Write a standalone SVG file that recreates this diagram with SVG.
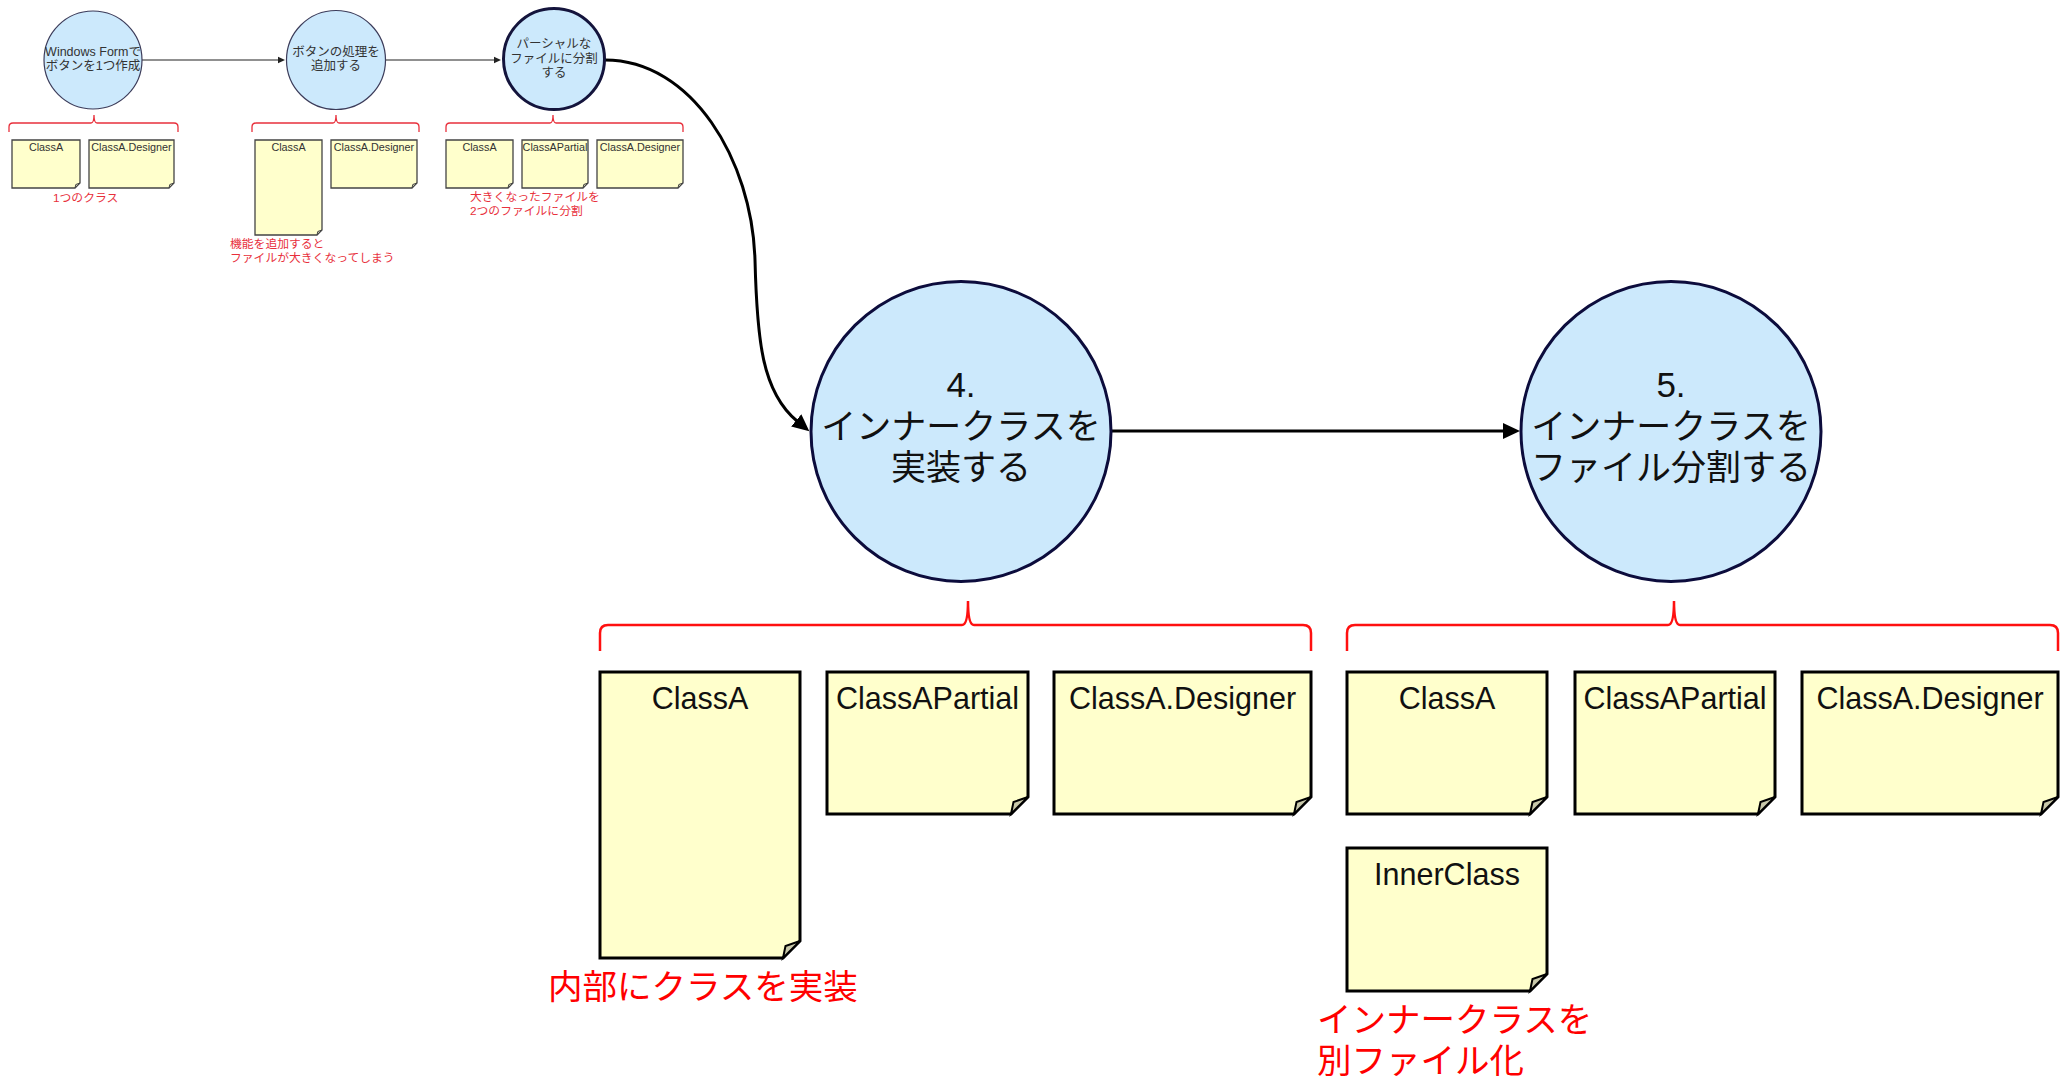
<svg xmlns="http://www.w3.org/2000/svg" width="2069" height="1078" viewBox="0 0 2069 1078">
  <style>
    text { font-family: "Liberation Sans", "Noto Sans CJK JP", sans-serif; }
    .bubble-s { fill: #cce9fc; stroke: #3c3c5a; stroke-width: 1.2; }
    .bubble-s3 { fill: #cce9fc; stroke: #14143c; stroke-width: 3; }
    .bubble-l { fill: #cce9fc; stroke: #0c0c3c; stroke-width: 3; }
    .note-s { fill: #ffffcc; stroke: #444; stroke-width: 1.3; stroke-linejoin: miter; }
    .note-l { fill: #ffffcc; stroke: #000; stroke-width: 3; stroke-linejoin: miter; }
    .fold-s { fill: #c8c8aa; stroke: #444; stroke-width: 1; }
    .fold-l { fill: #c8c8aa; stroke: #000; stroke-width: 2; }
    .brace-s { fill: none; stroke: #e8303c; stroke-width: 1.3; }
    .brace-l { fill: none; stroke: #ff1010; stroke-width: 2.5; }
    .txt-s { font-size: 12.5px; fill: #333; text-anchor: middle; }
    .lbl-s { font-size: 10.8px; fill: #333; text-anchor: middle; }
    .memo-s { font-size: 11.8px; fill: #e8303c; }
    .txt-l { font-size: 35px; fill: #111; text-anchor: middle; }
    .lbl-l { font-size: 30.5px; fill: #111; text-anchor: middle; }
    .memo-l { font-size: 34.5px; fill: #ff0000; }
    .link-s { fill: none; stroke: #222; stroke-width: 1.2; }
    .link-l { fill: none; stroke: #000; stroke-width: 3; }
  </style>
  <defs>
    <marker id="head-s" markerUnits="userSpaceOnUse" viewBox="0 0 8 8" markerWidth="8" markerHeight="8" refX="1" refY="4" orient="auto">
      <path d="M0,0.8 L7,4 L0,7.2 Z" fill="#222"/>
    </marker>
    <marker id="head-l" markerUnits="userSpaceOnUse" viewBox="0 0 18 18" markerWidth="18" markerHeight="18" refX="1" refY="9" orient="auto">
      <path d="M0,1 L17,9 L0,17 Z" fill="#000"/>
    </marker>
  </defs>

  <rect width="2069" height="1078" fill="#fff"/>

  <!-- connectors -->
  <g id="connectors">
    <path class="link-s" d="M142 60 H279" marker-end="url(#head-s)"/>
    <path class="link-s" d="M386 60 H495" marker-end="url(#head-s)"/>
    <path class="link-l" d="M605 60 C692 60 752 160 755 260 C757 340 762 392 797 421" marker-end="url(#head-l)"/>
    <path class="link-l" d="M1111 431 H1504" marker-end="url(#head-l)"/>
  </g>

  <!-- step 1 -->
  <g id="step1">
    <circle class="bubble-s" cx="93" cy="60" r="49"/>
    <text class="txt-s" x="93" y="56">Windows Formで</text>
    <text class="txt-s" x="93" y="69.5">ボタンを1つ作成</text>
  </g>
  <g id="step1-files">
    <path class="brace-s" d="M9 132 V127 Q9 123 13 123 H91 Q94 123 94 115 Q94 123 97 123 H174 Q178 123 178 127 V132"/>
    <path class="note-s" d="M12 140 H80 V183 L75 188 H12 Z"/>
    <path class="fold-s" d="M80 183 L75.8 184.5 L75 188 Z"/>
    <text class="lbl-s" x="46" y="151">ClassA</text>
    <path class="note-s" d="M89 140 H174 V183 L169 188 H89 Z"/>
    <path class="fold-s" d="M174 183 L169.8 184.5 L169 188 Z"/>
    <text class="lbl-s" x="131.5" y="151">ClassA.Designer</text>
    <text class="memo-s" x="53" y="202">1つのクラス</text>
  </g>

  <!-- step 2 -->
  <g id="step2">
    <circle class="bubble-s" cx="336" cy="60" r="49.5"/>
    <text class="txt-s" x="336" y="56">ボタンの処理を</text>
    <text class="txt-s" x="336" y="69.5">追加する</text>
  </g>
  <g id="step2-files">
    <path class="brace-s" d="M252 132 V127 Q252 123 256 123 H333 Q336 123 336 115 Q336 123 339 123 H415 Q419 123 419 127 V132"/>
    <path class="note-s" d="M255 140 H322 V230 L317 235 H255 Z"/>
    <path class="fold-s" d="M322 230 L317.8 231.5 L317 235 Z"/>
    <text class="lbl-s" x="288.5" y="151">ClassA</text>
    <path class="note-s" d="M331 140 H417 V183 L412 188 H331 Z"/>
    <path class="fold-s" d="M417 183 L412.8 184.5 L412 188 Z"/>
    <text class="lbl-s" x="374" y="151">ClassA.Designer</text>
    <text class="memo-s" x="230" y="248">機能を追加すると</text>
    <text class="memo-s" x="230" y="262">ファイルが大きくなってしまう</text>
  </g>

  <!-- step 3 -->
  <g id="step3">
    <circle class="bubble-s3" cx="554" cy="59" r="50.5"/>
    <text class="txt-s" x="554" y="47.5">パーシャルな</text>
    <text class="txt-s" x="554" y="62.5">ファイルに分割</text>
    <text class="txt-s" x="554" y="76.5">する</text>
  </g>
  <g id="step3-files">
    <path class="brace-s" d="M446 132 V127 Q446 123 450 123 H550 Q553 123 553 115 Q553 123 556 123 H679 Q683 123 683 127 V132"/>
    <path class="note-s" d="M446 140 H513 V183 L508 188 H446 Z"/>
    <path class="fold-s" d="M513 183 L508.8 184.5 L508 188 Z"/>
    <text class="lbl-s" x="479.5" y="151">ClassA</text>
    <path class="note-s" d="M522 140 H588 V183 L583 188 H522 Z"/>
    <path class="fold-s" d="M588 183 L583.8 184.5 L583 188 Z"/>
    <text class="lbl-s" x="555" y="151">ClassAPartial</text>
    <path class="note-s" d="M597 140 H683 V183 L678 188 H597 Z"/>
    <path class="fold-s" d="M683 183 L678.8 184.5 L678 188 Z"/>
    <text class="lbl-s" x="640" y="151">ClassA.Designer</text>
    <text class="memo-s" x="470" y="201">大きくなったファイルを</text>
    <text class="memo-s" x="470" y="215">2つのファイルに分割</text>
  </g>

  <!-- step 4 -->
  <g id="step4">
    <circle class="bubble-l" cx="961" cy="431.5" r="150"/>
    <text class="txt-l" x="961" y="397">4.</text>
    <text class="txt-l" x="961" y="439">インナークラスを</text>
    <text class="txt-l" x="961" y="480">実装する</text>
  </g>
  <g id="step4-files">
    <path class="brace-l" d="M600 651 V633 Q600 625 608 625 H962 Q968 625 968 601 Q968 625 974 625 H1303 Q1311 625 1311 633 V651"/>
    <path class="note-l" d="M600 672 H800 V941 L783 958 H600 Z"/>
    <path class="fold-l" d="M800 941 L785.5 946 L783 958 Z"/>
    <text class="lbl-l" x="700" y="709">ClassA</text>
    <path class="note-l" d="M827 672 H1028 V797 L1011 814 H827 Z"/>
    <path class="fold-l" d="M1028 797 L1013.5 802 L1011 814 Z"/>
    <text class="lbl-l" x="927.5" y="709">ClassAPartial</text>
    <path class="note-l" d="M1054 672 H1311 V797 L1294 814 H1054 Z"/>
    <path class="fold-l" d="M1311 797 L1296.5 802 L1294 814 Z"/>
    <text class="lbl-l" x="1182.5" y="709">ClassA.Designer</text>
    <text class="memo-l" x="548" y="999">内部にクラスを実装</text>
  </g>

  <!-- step 5 -->
  <g id="step5">
    <circle class="bubble-l" cx="1671" cy="431.5" r="150"/>
    <text class="txt-l" x="1671" y="397">5.</text>
    <text class="txt-l" x="1671" y="439">インナークラスを</text>
    <text class="txt-l" x="1671" y="480">ファイル分割する</text>
  </g>
  <g id="step5-files">
    <path class="brace-l" d="M1347 651 V633 Q1347 625 1355 625 H1668 Q1674 625 1674 601 Q1674 625 1680 625 H2050 Q2058 625 2058 633 V651"/>
    <path class="note-l" d="M1347 672 H1547 V797 L1530 814 H1347 Z"/>
    <path class="fold-l" d="M1547 797 L1532.5 802 L1530 814 Z"/>
    <text class="lbl-l" x="1447" y="709">ClassA</text>
    <path class="note-l" d="M1575 672 H1775 V797 L1758 814 H1575 Z"/>
    <path class="fold-l" d="M1775 797 L1760.5 802 L1758 814 Z"/>
    <text class="lbl-l" x="1675" y="709">ClassAPartial</text>
    <path class="note-l" d="M1802 672 H2058 V797 L2041 814 H1802 Z"/>
    <path class="fold-l" d="M2058 797 L2043.5 802 L2041 814 Z"/>
    <text class="lbl-l" x="1930" y="709">ClassA.Designer</text>
    <path class="note-l" d="M1347 848 H1547 V974 L1530 991 H1347 Z"/>
    <path class="fold-l" d="M1547 974 L1532.5 979 L1530 991 Z"/>
    <text class="lbl-l" x="1447" y="885">InnerClass</text>
    <text class="memo-l" x="1317" y="1032">インナークラスを</text>
    <text class="memo-l" x="1317" y="1073">別ファイル化</text>
  </g>
</svg>
